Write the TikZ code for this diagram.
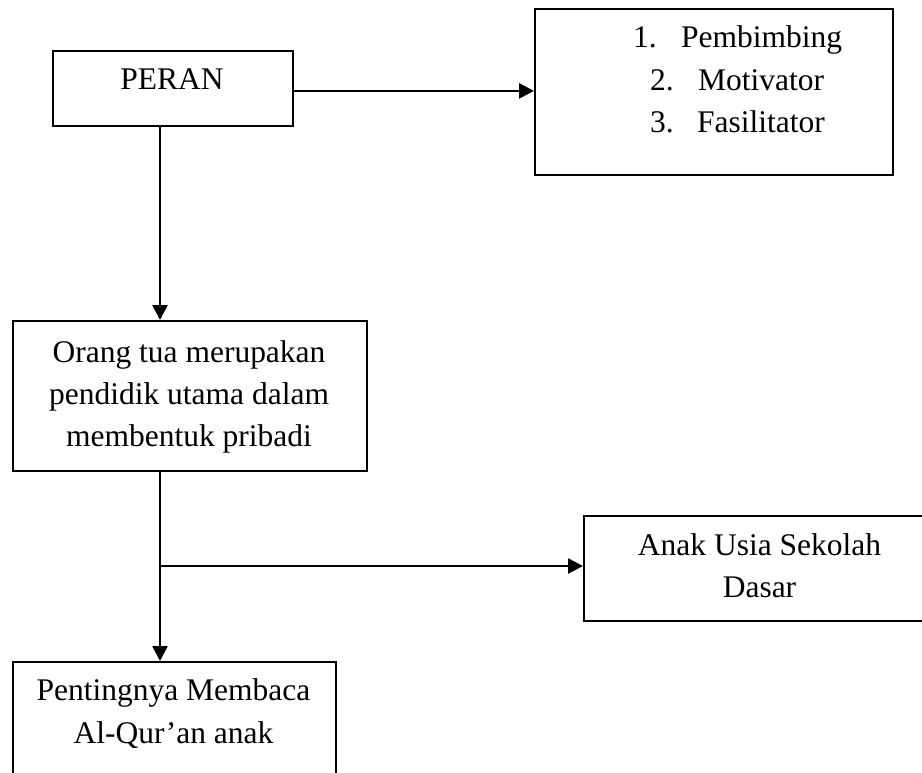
\documentclass[tikz,border=0pt]{standalone}
\usepackage{fontspec}
\setmainfont{Liberation Serif}
\usetikzlibrary{arrows.meta}
\begin{document}
\begin{tikzpicture}[x=1pt,y=-1pt,
  boxnode/.style={draw=black, line width=1.8pt, rectangle, inner sep=0pt, anchor=north west},
  txt/.style={font=\fontsize{31.5}{42}\selectfont, inner sep=0pt, anchor=base},
  conn/.style={line width=2.6pt, -{Triangle[length=15pt,width=15pt]}},
  ]
\useasboundingbox (0,0) rectangle (922,772);
\clip (0,0) rectangle (922,772);
% boxes
\node[boxnode, minimum width=240pt, minimum height=75pt] (peran) at (52,50) {};
\node[boxnode, minimum width=358pt, minimum height=166pt] (roles) at (534,8) {};
\node[boxnode, minimum width=354pt, minimum height=150pt] (mid) at (12,320) {};
\node[boxnode, minimum width=353pt, minimum height=105pt] (anak) at (583,515) {};
\node[boxnode, minimum width=323pt, minimum height=140pt] (bottom) at (12,661) {};
% texts
\node[txt] (tperan) at (172,89) {PERAN};
\node[txt, anchor=base west] (n1) at (633,47) {1.};
\node[txt, anchor=base west] (r1) at (681,47) {Pembimbing};
\node[txt, anchor=base west] (n2) at (650,90) {2.};
\node[txt, anchor=base west] (r2) at (698,90) {Motivator};
\node[txt, anchor=base west] (n3) at (650,132) {3.};
\node[txt, anchor=base west] (r3) at (697,132) {Fasilitator};
\node[txt] (m1) at (189,362) {Orang tua merupakan};
\node[txt] (m2) at (189,404) {pendidik utama dalam};
\node[txt] (m3) at (189,446) {membentuk pribadi};
\node[txt] (a1) at (759.5,555) {Anak Usia Sekolah};
\node[txt] (a2) at (759.5,597) {Dasar};
\node[txt] (b1) at (173.5,700) {Pentingnya Membaca};
\node[txt] (b2) at (173.5,743) {Al-Qur’an anak};
% connectors
\coordinate (spine) at (160,0);
\coordinate (br) at (160,566);
\draw[conn] ([yshift=-2.5pt]peran.east) -- ([yshift=-2.5pt]roles.west |- peran.east);
\draw[conn] (peran.south -| spine) -- (mid.north -| spine);
\draw[conn] (mid.south -| spine) -- (bottom.north -| spine);
\draw[conn] (br) -- (br -| anak.west);
\end{tikzpicture}
\end{document}
